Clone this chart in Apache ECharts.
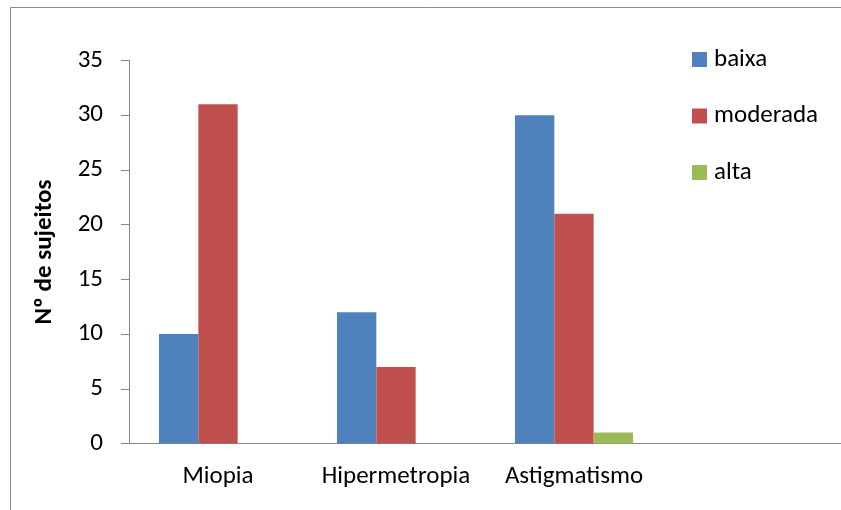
<!DOCTYPE html>
<html>
<head>
<meta charset="utf-8">
<script src="https://cdn.jsdelivr.net/npm/echarts@6/dist/echarts.min.js"></script>
<style>html,body{margin:0;padding:0;background:#fff}#c{width:841px;height:510px}</style>
</head>
<body>
<div id="c"></div>
<script>
var categories = ['Miopia', 'Hipermetropia', 'Astigmatismo', ''];
var seriesNames = ['baixa', 'moderada', 'alta'];
var baixa = [10, 12, 30, null];
var moderada = [31, 7, 21, null];
var alta = [0, 0, 1, null];
var yTicks = { min: 0, max: 35, interval: 5 };
var yTitle = 'Nº de sujeitos';

var FONT = "Carlito, Calibri, 'Liberation Sans', sans-serif";
var colors = ['#4F81BD', '#C0504D', '#9BBB59'];
var chart = echarts.init(document.getElementById('c'), null, { renderer: 'canvas' });
var data = [baixa, moderada, alta];
chart.setOption({
  animation: false,
  color: colors,
  textStyle: { fontFamily: FONT },
  graphic: [{
    type: 'rect', silent: true,
    shape: { x: 10.5, y: 7.5, width: 900, height: 600 },
    style: { fill: 'none', stroke: '#8a8a8a', lineWidth: 1 }
  }],
  grid: { left: 129, right: 0, top: 60.5, bottom: 66.5, containLabel: false },
  legend: {
    orient: 'vertical',
    left: 692, top: 47, padding: 0,
    itemWidth: 15, itemHeight: 15, itemGap: 31.5,
    icon: 'rect',
    textStyle: { fontFamily: FONT, fontSize: 25, color: '#000', padding: [0, 0, 0, 2] },
    data: seriesNames
  },
  xAxis: {
    type: 'category',
    data: categories,
    axisLine: { lineStyle: { color: '#868686', width: 1 } },
    axisTick: { show: false },
    axisLabel: { fontFamily: FONT, fontSize: 25, color: '#000', margin: 21, interval: 0 },
    splitLine: { show: false }
  },
  yAxis: {
    type: 'value',
    min: yTicks.min, max: yTicks.max, interval: yTicks.interval,
    name: yTitle,
    nameLocation: 'middle',
    nameGap: 72,
    nameRotate: 90,
    nameTextStyle: { fontFamily: FONT, fontSize: 25, fontWeight: 'bold', color: '#000' },
    axisLine: { show: true, lineStyle: { color: '#868686', width: 1 } },
    axisTick: { show: true, length: 8, lineStyle: { color: '#868686' } },
    axisLabel: { fontFamily: FONT, fontSize: 25, color: '#000', margin: 26 },
    splitLine: { show: false }
  },
  series: seriesNames.map(function (n, i) {
    return {
      name: n, type: 'bar', data: data[i],
      barGap: '0%', barCategoryGap: '33.7%',
      itemStyle: { color: colors[i] }
    };
  })
});
</script>
</body>
</html>
